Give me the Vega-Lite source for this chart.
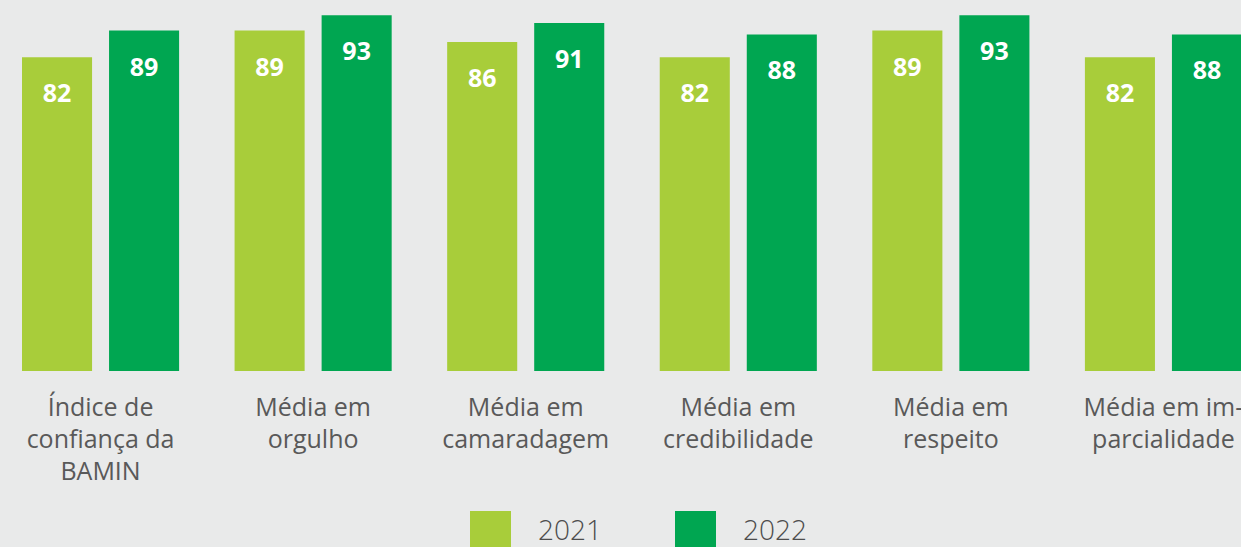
{
  "$schema": "https://vega.github.io/schema/vega-lite/v6.json",
  "width": 1264,
  "height": 371,
  "autosize": "none",
  "padding": {"left": 0, "top": 0, "right": 0, "bottom": 176},
  "background": "#e9eaea",
  "config": {"view": {"stroke": null}, "font": "Open Sans"},
  "data": {
    "values": [
      {"categoria": "Índice de|confiança da|BAMIN", "ano": "2021", "valor": 82},
      {"categoria": "Índice de|confiança da|BAMIN", "ano": "2022", "valor": 89},
      {"categoria": "Média em|orgulho", "ano": "2021", "valor": 89},
      {"categoria": "Média em|orgulho", "ano": "2022", "valor": 93},
      {"categoria": "Média em|camaradagem", "ano": "2021", "valor": 86},
      {"categoria": "Média em|camaradagem", "ano": "2022", "valor": 91},
      {"categoria": "Média em|credibilidade", "ano": "2021", "valor": 82},
      {"categoria": "Média em|credibilidade", "ano": "2022", "valor": 88},
      {"categoria": "Média em|respeito", "ano": "2021", "valor": 89},
      {"categoria": "Média em|respeito", "ano": "2022", "valor": 93},
      {"categoria": "Média em im-|parcialidade", "ano": "2021", "valor": 82},
      {"categoria": "Média em im-|parcialidade", "ano": "2022", "valor": 88}
    ]
  },
  "encoding": {
    "x": {
      "field": "categoria",
      "type": "nominal",
      "sort": null,
      "scale": {"paddingInner": 0.261, "paddingOuter": 0.1035},
      "axis": {
        "title": null,
        "domain": false,
        "ticks": false,
        "labelAngle": 0,
        "labelExpr": "split(datum.label, '|')",
        "labelFontSize": 25,
        "labelLineHeight": 32,
        "labelColor": "#595959",
        "labelPadding": 24,
        "labelBaseline": "top",
        "labelLimit": 0
      }
    },
    "xOffset": {
      "field": "ano",
      "type": "nominal",
      "scale": {"paddingInner": 0.195, "paddingOuter": 0}
    },
    "y": {
      "field": "valor",
      "type": "quantitative",
      "scale": {"domain": [0, 97], "nice": false, "zero": true},
      "axis": null
    }
  },
  "layer": [
    {
      "mark": {"type": "bar"},
      "encoding": {
        "color": {
          "field": "ano",
          "type": "nominal",
          "scale": {"domain": ["2021", "2022"], "range": ["#a8cd3a", "#00a651"]},
          "legend": {
            "title": null,
            "orient": "none",
            "direction": "horizontal",
            "legendX": 470,
            "legendY": 511,
            "symbolType": "square",
            "symbolSize": 1681,
            "symbolStrokeWidth": 0,
            "labelFontSize": 28,
            "labelFontWeight": 300,
            "labelColor": "#4d4d4d",
            "labelOffset": 27,
            "columnPadding": 73,
            "padding": 0
          }
        }
      }
    },
    {
      "mark": {"type": "text", "color": "white", "fontSize": 25, "fontWeight": "bold", "baseline": "middle", "dy": 37},
      "encoding": {"text": {"field": "valor", "type": "quantitative"}}
    }
  ]
}
